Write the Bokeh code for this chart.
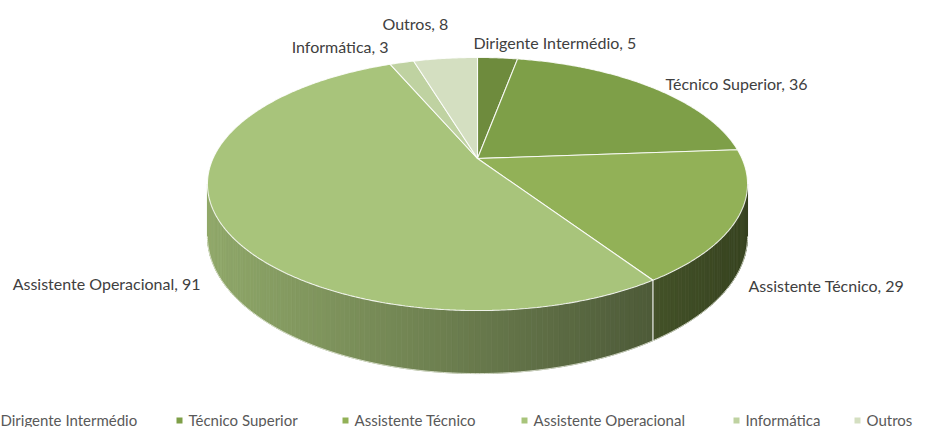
import numpy as np
from bokeh.plotting import figure
from bokeh.models import ColumnDataSource, Range1d
from bokeh.core.properties import value
from bokeh.embed import file_html
from bokeh.resources import INLINE

# ---------------- data ----------------
categories = ["Dirigente Intermédio", "Técnico Superior", "Assistente Técnico",
              "Assistente Operacional", "Informática", "Outros"]
counts = [5, 36, 29, 91, 3, 8]
label_texts = ["Dirigente Intermédio,  5", "Técnico Superior, 36", "Assistente Técnico, 29",
               "Assistente Operacional, 91", "Informática, 3", "Outros, 8"]
colors = ["#6e8b3d", "#7e9f48", "#92b157", "#a8c47b", "#bfd2a1", "#d4dfc1"]

# ---------------- layout / style ----------------
W, H = 916, 427
CX, CY = 477, 158          # pie vertex (px)
RA, RB, PK = 264.5, 121.4, 0.2016   # ellipse radii and perspective factor
DEPTH = 50.3
FONT = "Lato"
LABEL_COLOR = "#404040"
LEGEND_COLOR = "#595959"
# label anchors: (x, y, align)
label_pos = [(473, 42, "left"), (665, 83, "left"), (748, 285, "left"),
             (200, 283, "right"), (388, 46, "right"), (382, 23, "left")]
legend_text_x = [0, 188, 354, 533, 745, 866]
legend_y = 419


def proj(phi, drop=0.0):
    u = np.sin(phi)
    v = -np.cos(phi)
    d = 1 - PK * v
    return CX + RA * u / d, CY + RB * v / d + drop / d


def shade(hexc, f):
    r, g, b = int(hexc[1:3], 16), int(hexc[3:5], 16), int(hexc[5:7], 16)
    return "#%02x%02x%02x" % (int(r * f), int(g * f), int(b * f))


total = float(sum(counts))
bounds = np.concatenate([[0.0], np.cumsum(counts) / total * 2 * np.pi])

p = figure(width=W, height=H, output_backend="svg", toolbar_location=None,
           x_range=Range1d(0, W), y_range=Range1d(H, 0),
           min_border=0, outline_line_color=None)
p.axis.visible = False
p.grid.visible = False
p.background_fill_color = "white"
p.border_fill_color = "white"

# ---------------- side (visible front part) ----------------
vis_a = np.arccos(-PK)
vis_b = 2 * np.pi - vis_a
brk = list(np.linspace(vis_a, vis_b, 160))
brk += [b for b in bounds if vis_a < b < vis_b]
brk = sorted(brk)
sx, sy, sc = [], [], []
for a, b in zip(brk[:-1], brk[1:]):
    m = 0.5 * (a + b)
    idx = int(np.searchsorted(bounds, m) - 1)
    x1, y1 = proj(a)
    x2, y2 = proj(b)
    x3, y3 = proj(b, DEPTH)
    x4, y4 = proj(a, DEPTH)
    xm = 0.5 * (x1 + x2)
    f = np.clip(0.86 - 0.48 * (xm - 207) / 540.0, 0.36, 0.9)
    sx.append([x1, x2, x3, x4])
    sy.append([y1, y2, y3, y4])
    sc.append(shade(colors[idx], f))
p.patches("xs", "ys", source=ColumnDataSource(dict(xs=sx, ys=sy, c=sc)),
          fill_color="c", line_color="c", line_width=0.8)

# bottom rim soft edge
rim = np.linspace(vis_a, vis_b, 200)
rx, ry = proj(rim, DEPTH)
p.line(rx, ry, line_color="#e8ecdf", line_width=1, line_alpha=0.8)

# white separators on the side
for b in bounds:
    if vis_a < b < vis_b:
        xa, ya = proj(b)
        xb, yb = proj(b, DEPTH)
        p.line([xa, xb], [ya, yb], line_color="white", line_width=1.2, line_alpha=0.9)

# ---------------- top face ----------------
tx, ty = [], []
for i in range(len(counts)):
    ang = np.linspace(bounds[i], bounds[i + 1], max(4, int(counts[i] * 4)))
    ex, ey = proj(ang)
    tx.append([CX] + list(ex))
    ty.append([CY] + list(ey))
p.patches("xs", "ys", source=ColumnDataSource(dict(xs=tx, ys=ty, c=colors)),
          fill_color="c", line_color="white", line_width=1.1, line_alpha=0.85)

# ---------------- data labels ----------------
for txt, (lx, ly, al) in zip(label_texts, label_pos):
    p.text(x=[lx], y=[ly], text=[txt], text_font=value(FONT), text_font_size="16px",
           text_color=LABEL_COLOR, text_align=al, text_baseline="middle")

# ---------------- legend ----------------
p.scatter(x=[t - 9 for t in legend_text_x], y=[legend_y + 1] * len(categories),
          marker="square", size=6, fill_color=colors, line_color=None)
p.text(x=legend_text_x, y=[legend_y] * len(categories), text=categories,
       text_font=value(FONT), text_font_size="15px", text_color=LEGEND_COLOR,
       text_align="left", text_baseline="middle")

open("out.html", "w").write(file_html(p, INLINE))
